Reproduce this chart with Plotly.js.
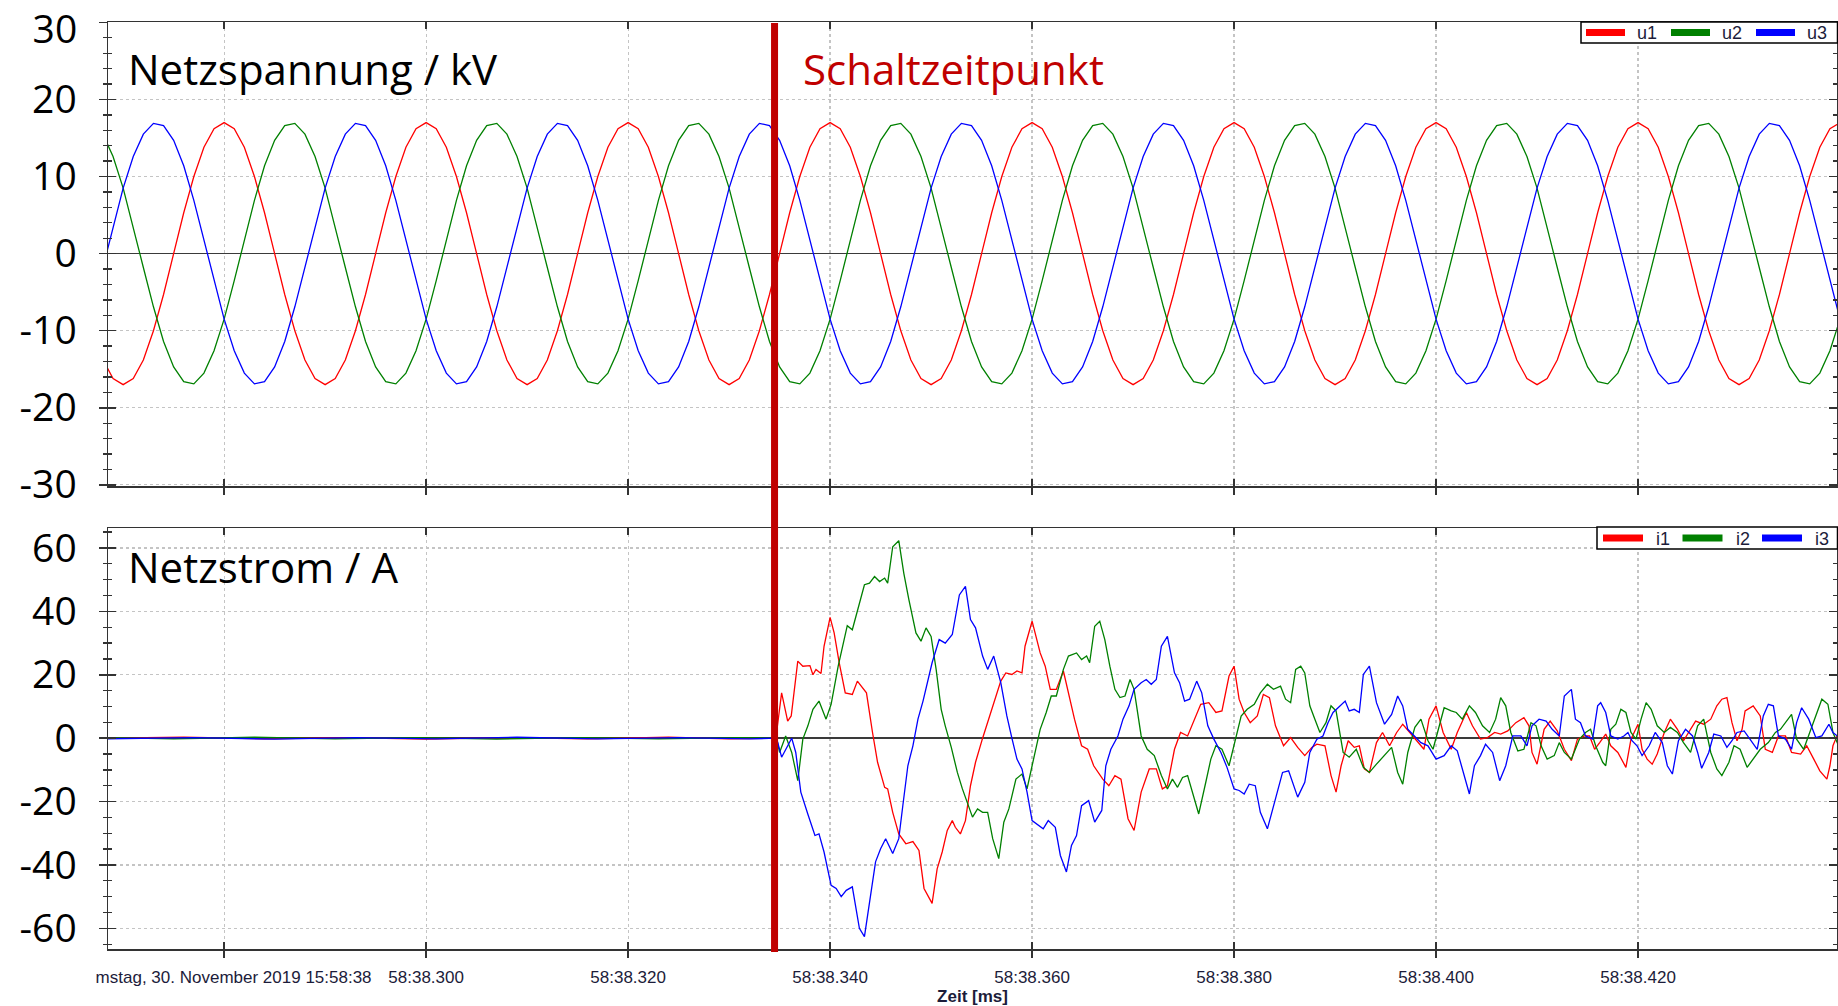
<!DOCTYPE html>
<html>
<head>
<meta charset="utf-8">
<script src="https://cdn.plot.ly/plotly-3.0.1.min.js"></script>
<style>
  html, body { margin: 0; padding: 0; background: #fff; }
  #chart { width: 1838px; height: 1006px; }
</style>
</head>
<body>
<div id="chart"></div>
<script>
// ---------------------------------------------------------------
// Mains voltage (kV), one sample per millisecond from 58:38.268
// ---------------------------------------------------------------
const voltageStartMs = 268;
const voltageStepMs = 1;

const u1 = [
  -13.8,-16.2,-17.0,-16.2,-13.8,-10.0,-5.3,0,5.3,10.0,13.8,16.2,17.0,16.2,13.8,10.0,5.3,0,-5.3,-10.0,
  -13.8,-16.2,-17.0,-16.2,-13.8,-10.0,-5.3,0,5.3,10.0,13.8,16.2,17.0,16.2,13.8,10.0,5.3,0,-5.3,-10.0,
  -13.8,-16.2,-17.0,-16.2,-13.8,-10.0,-5.3,0,5.3,10.0,13.8,16.2,17.0,16.2,13.8,10.0,5.3,0,-5.3,-10.0,
  -13.8,-16.2,-17.0,-16.2,-13.8,-10.0,-5.3,0,5.3,10.0,13.8,16.2,17.0,16.2,13.8,10.0,5.3,0,-5.3,-10.0,
  -13.8,-16.2,-17.0,-16.2,-13.8,-10.0,-5.3,0,5.3,10.0,13.8,16.2,17.0,16.2,13.8,10.0,5.3,0,-5.3,-10.0,
  -13.8,-16.2,-17.0,-16.2,-13.8,-10.0,-5.3,0,5.3,10.0,13.8,16.2,17.0,16.2,13.8,10.0,5.3,0,-5.3,-10.0,
  -13.8,-16.2,-17.0,-16.2,-13.8,-10.0,-5.3,0,5.3,10.0,13.8,16.2,17.0,16.2,13.8,10.0,5.3,0,-5.3,-10.0,
  -13.8,-16.2,-17.0,-16.2,-13.8,-10.0,-5.3,0,5.3,10.0,13.8,16.2,17.0,16.2,13.8,10.0,5.3,0,-5.3,-10.0,
  -13.8,-16.2,-17.0,-16.2,-13.8,-10.0,-5.3,0,5.3,10.0,13.8,16.2,17.0
];

const u2 = [
  15.5,12.6,8.5,3.5,-1.8,-6.9,-11.4,-14.7,-16.6,-16.9,-15.5,-12.6,-8.5,-3.5,1.8,6.9,11.4,14.7,16.6,16.9,
  15.5,12.6,8.5,3.5,-1.8,-6.9,-11.4,-14.7,-16.6,-16.9,-15.5,-12.6,-8.5,-3.5,1.8,6.9,11.4,14.7,16.6,16.9,
  15.5,12.6,8.5,3.5,-1.8,-6.9,-11.4,-14.7,-16.6,-16.9,-15.5,-12.6,-8.5,-3.5,1.8,6.9,11.4,14.7,16.6,16.9,
  15.5,12.6,8.5,3.5,-1.8,-6.9,-11.4,-14.7,-16.6,-16.9,-15.5,-12.6,-8.5,-3.5,1.8,6.9,11.4,14.7,16.6,16.9,
  15.5,12.6,8.5,3.5,-1.8,-6.9,-11.4,-14.7,-16.6,-16.9,-15.5,-12.6,-8.5,-3.5,1.8,6.9,11.4,14.7,16.6,16.9,
  15.5,12.6,8.5,3.5,-1.8,-6.9,-11.4,-14.7,-16.6,-16.9,-15.5,-12.6,-8.5,-3.5,1.8,6.9,11.4,14.7,16.6,16.9,
  15.5,12.6,8.5,3.5,-1.8,-6.9,-11.4,-14.7,-16.6,-16.9,-15.5,-12.6,-8.5,-3.5,1.8,6.9,11.4,14.7,16.6,16.9,
  15.5,12.6,8.5,3.5,-1.8,-6.9,-11.4,-14.7,-16.6,-16.9,-15.5,-12.6,-8.5,-3.5,1.8,6.9,11.4,14.7,16.6,16.9,
  15.5,12.6,8.5,3.5,-1.8,-6.9,-11.4,-14.7,-16.6,-16.9,-15.5,-12.6,-8.5
];

const u3 = [
  -1.8,3.5,8.5,12.6,15.5,16.9,16.6,14.7,11.4,6.9,1.8,-3.5,-8.5,-12.6,-15.5,-16.9,-16.6,-14.7,-11.4,-6.9,
  -1.8,3.5,8.5,12.6,15.5,16.9,16.6,14.7,11.4,6.9,1.8,-3.5,-8.5,-12.6,-15.5,-16.9,-16.6,-14.7,-11.4,-6.9,
  -1.8,3.5,8.5,12.6,15.5,16.9,16.6,14.7,11.4,6.9,1.8,-3.5,-8.5,-12.6,-15.5,-16.9,-16.6,-14.7,-11.4,-6.9,
  -1.8,3.5,8.5,12.6,15.5,16.9,16.6,14.7,11.4,6.9,1.8,-3.5,-8.5,-12.6,-15.5,-16.9,-16.6,-14.7,-11.4,-6.9,
  -1.8,3.5,8.5,12.6,15.5,16.9,16.6,14.7,11.4,6.9,1.8,-3.5,-8.5,-12.6,-15.5,-16.9,-16.6,-14.7,-11.4,-6.9,
  -1.8,3.5,8.5,12.6,15.5,16.9,16.6,14.7,11.4,6.9,1.8,-3.5,-8.5,-12.6,-15.5,-16.9,-16.6,-14.7,-11.4,-6.9,
  -1.8,3.5,8.5,12.6,15.5,16.9,16.6,14.7,11.4,6.9,1.8,-3.5,-8.5,-12.6,-15.5,-16.9,-16.6,-14.7,-11.4,-6.9,
  -1.8,3.5,8.5,12.6,15.5,16.9,16.6,14.7,11.4,6.9,1.8,-3.5,-8.5,-12.6,-15.5,-16.9,-16.6,-14.7,-11.4,-6.9,
  -1.8,3.5,8.5,12.6,15.5,16.9,16.6,14.7,11.4,6.9,1.8,-3.5,-8.5
];

// ---------------------------------------------------------------
// Mains current (A) as [time in ms after 58:38, value] pairs
// ---------------------------------------------------------------
const i1Samples = [
  [268,0],[276,0.3],[284,-0.2],[292,0.2],[300,-0.3],[308,0.2],[316,-0.2],[324,0.3],[330,-0.2],[334.5,0],
  [334.7,1.8],[335.2,14.3],[335.8,5.4],[336.15,7],[336.8,24.3],[337.3,22.7],[338.0,22.9],[338.3,20],[338.6,21.7],[339.1,20.4],
  [339.4,29],[340.0,38.1],[340.4,33.2],[340.9,23.8],[341.5,14.3],[342.2,13.8],[342.7,18],[343.6,14.3],[344.2,1.8],[344.7,-7.6],
  [345.4,-15.5],[345.7,-16],[346.2,-23.4],[346.8,-30.2],[347.5,-33.3],[348.2,-32.6],[348.8,-35.4],[349.3,-47.4],[350.1,-52.1],[350.6,-41.2],
  [351.1,-35.9],[351.6,-29.1],[352.1,-26],[352.4,-28.1],[352.9,-30.2],[353.4,-26],[353.9,-15],[354.4,-7.6],[355.1,0],[355.7,6],
  [356.4,13.3],[356.9,18],[357.4,20.6],[358.0,20.1],[358.5,21.2],[359.0,20.6],[359.3,29],[360.0,36.9],[360.8,26.9],[361.3,22.7],
  [361.8,15.4],[362.4,15.4],[363.1,21.2],[363.6,14.3],[364.2,6],[364.9,-2.4],[365.5,-3.5],[366.1,-8.7],[367.0,-12.9],[367.6,-15],
  [368.2,-11.8],[368.8,-12.9],[369.5,-25.4],[370.1,-29.1],[370.8,-17],[371.6,-9.7],[372.3,-9.7],[372.9,-16],[373.4,-15],[374.1,-3.5],
  [374.7,1.8],[375.4,0.7],[376.1,6],[376.7,10.7],[377.5,11.2],[378.2,8.1],[378.8,8.6],[379.5,19.6],[380.0,22.7],[380.5,12.3],
  [381.0,8.1],[381.6,4.9],[382.3,7],[382.9,13.8],[383.5,12.8],[384.1,3.9],[384.9,-2.4],[385.6,0.2],[386.3,-2.9],[387.0,-5.5],
  [387.7,-2.9],[388.2,-1.9],[389.0,-2.4],[389.6,-11.8],[390.1,-17],[390.6,-8.7],[391.3,-0.8],[391.9,-2.9],[392.4,-2.4],[392.9,-9.7],
  [393.4,-10.8],[394.1,-1.4],[394.7,1.8],[395.4,-2.4],[396.1,1.8],[396.7,4.4],[397.4,1.8],[398.2,-1.4],[398.8,-3.5],[399.3,6],
  [400.0,10.2],[400.7,1.8],[401.5,-3.5],[402.1,1.8],[403.0,8.1],[403.6,3.9],[404.4,-0.3],[405.1,0.2],[405.8,1.8],[406.4,1.3],
  [407.1,2.3],[407.9,4.9],[408.7,6.5],[409.2,3.9],[409.5,-4.5],[410.0,-8.2],[410.7,2.8],[411.3,5.4],[412.0,2.3],[412.7,-3.5],
  [413.4,-7.1],[414.0,-0.3],[414.7,0.7],[415.2,0.7],[415.7,-3.5],[416.2,-1.4],[416.8,1.3],[417.3,-2.4],[418.0,-4.5],[418.8,-9.2],
  [419.3,-0.3],[420.0,4.4],[420.4,-3.5],[420.9,-6.6],[421.4,-8.2],[421.9,-5],[422.6,1.8],[423.2,6],[423.9,2.8],[424.5,-0.8],
  [425.2,2.8],[425.7,5.4],[426.5,4.4],[427.2,6],[427.8,10.2],[428.3,12.3],[428.8,12.8],[429.3,4.9],[429.8,-0.8],[430.3,2.8],
  [430.6,8.6],[431.4,10.2],[432.1,7],[432.6,-3.5],[433.3,-4.5],[433.9,0.7],[434.6,0.7],[435.2,-4.5],[436.1,-5],[436.7,-2.4],
  [437.4,-6.6],[438.0,-10.3],[438.7,-12.9],[439.0,-8.7],[439.3,-2.4],[439.8,1.5]
];

const i2Samples = [
  [268,0.2],[275,-0.2],[283,0.3],[291,-0.2],[299,0.2],[307,-0.3],[315,0.2],[323,-0.2],[331,0.2],[334.5,0],
  [334.7,0],[335.0,-4.5],[335.6,0.7],[336.2,-4.5],[336.8,-13.4],[337.3,-0.3],[337.8,3.9],[338.3,9.1],[338.9,11.7],[339.6,6],
  [340.1,10.7],[340.8,22.7],[341.3,30],[341.7,35.5],[342.2,34.2],[342.7,40.5],[343.4,48.4],[343.9,48.9],[344.4,51],[344.9,49.4],
  [345.4,50.5],[345.7,48.9],[346.2,60.4],[346.8,62.3],[347.3,52],[347.8,43.7],[348.5,33.2],[349.0,30.6],[349.5,34.8],[350.0,32.1],
  [350.5,21.7],[351.0,9.1],[351.4,3.9],[352.0,-2.9],[352.6,-10.8],[353.1,-16],[353.6,-20.7],[354.1,-24.9],[354.6,-22.3],[355.1,-23.4],
  [355.6,-23.4],[356.1,-31.7],[356.7,-38],[357.2,-26.5],[357.7,-22.3],[358.4,-12.9],[359.0,-11.3],[359.5,-16],[360.0,-8.7],[360.8,2.8],
  [361.4,8.1],[361.9,13.3],[362.4,13.3],[363.1,21.7],[363.6,25.9],[364.4,26.9],[364.9,24.8],[365.4,25.9],[365.7,23.8],[366.2,35.3],
  [366.7,36.9],[367.2,31.1],[367.7,22.7],[368.2,15.4],[368.7,12.8],[369.2,13.3],[369.7,18.5],[370.1,15.4],[370.8,0.7],[371.4,-3.5],
  [372.1,-5.5],[372.8,-11.8],[373.4,-16],[373.9,-12.9],[374.4,-15.5],[374.9,-12.4],[375.4,-11.8],[375.9,-17],[376.5,-23.9],[377.2,-13.9],
  [377.7,-6.6],[378.2,-2.4],[378.8,-3.5],[379.5,-8.7],[380.0,-2.4],[380.7,7],[381.3,9.1],[382.0,10.7],[382.6,14.3],[383.3,17],
  [383.9,15.4],[384.6,16.4],[385.1,12.3],[385.6,11.2],[386.1,21.7],[386.6,22.7],[387.0,20.6],[387.5,10.2],[388.0,6],[388.5,1.8],
  [389.1,4.9],[389.6,10.2],[390.1,8.6],[390.8,-4.5],[391.4,-6],[392.1,-3.5],[392.8,-9.2],[393.4,-10.8],[394.1,-8.2],[394.9,-5.5],
  [395.6,-2.9],[396.2,-10.8],[396.7,-14.5],[397.2,-4.5],[397.9,3.4],[398.5,6],[399.2,-0.8],[399.7,-3.5],[400.2,2.8],[400.8,9.6],
  [401.5,8.6],[402.0,8.1],[402.6,6],[403.3,10.2],[403.9,8.1],[404.6,3.9],[405.3,1.8],[405.9,6],[406.4,12.8],[406.9,10.2],
  [407.4,1.8],[408.1,-4],[408.7,-3.5],[409.4,4.9],[409.9,3.9],[410.4,-2.4],[411.0,-6.6],[411.7,-5.5],[412.2,-1.4],[412.7,-4.5],
  [413.4,-6.6],[414.2,-0.3],[414.8,1.8],[415.3,2.8],[415.8,-2.4],[416.5,-7.6],[416.8,-8.7],[417.3,2.8],[417.8,4.4],[418.3,9.1],
  [418.8,8.1],[419.3,1.8],[419.8,-0.3],[420.3,6],[420.8,11.2],[421.3,9.1],[421.9,3.9],[422.6,1.8],[423.2,3.4],[423.9,1.8],
  [424.5,-1.4],[425.2,-4.5],[425.9,3.9],[426.5,6],[427.2,-4.5],[427.8,-9.7],[428.3,-11.8],[429.0,-7.6],[429.5,-2.4],[430.1,-3.5],
  [430.8,-9.2],[431.4,-6.6],[432.1,-3.5],[432.9,-1.4],[433.6,1.8],[434.1,2.8],[434.6,4.9],[435.2,7.5],[435.7,-0.3],[436.4,-3.5],
  [437.0,1.8],[437.5,6],[438.2,12.3],[438.8,10.7],[439.3,1.8],[439.8,-2]
];

const i3Samples = [
  [268,-0.2],[277,0.2],[285,-0.3],[293,0.2],[301,-0.2],[309,0.3],[317,-0.2],[325,0.2],[332,-0.2],[334.5,0],
  [334.7,0],[335.2,-6],[335.7,-3],[336.2,0],[336.6,-4.5],[337.1,-17],[337.8,-24],[338.5,-30.7],[338.9,-30.2],[339.4,-35.9],
  [340.1,-46.4],[340.6,-47.4],[341.1,-50],[341.6,-48],[342.2,-46.9],[342.9,-60],[343.4,-62.6],[343.9,-51.6],[344.5,-39],[345.0,-34.9],
  [345.5,-31.7],[346.2,-36.4],[346.8,-31.7],[347.2,-21.3],[347.7,-8.7],[348.2,-2.4],[348.7,6],[349.2,11.7],[349.6,17.5],[350.1,23.8],
  [350.8,31.1],[351.4,30],[352.1,32.7],[352.8,45.2],[353.4,47.9],[353.9,37.4],[354.4,34.8],[355.1,25.9],[355.6,21.7],[356.2,25.9],
  [356.9,17.5],[357.5,7],[358.0,0],[358.5,-6.6],[359.0,-9.7],[359.5,-17],[360.0,-26],[361.1,-28.6],[361.6,-26],[362.3,-28.1],
  [362.8,-37],[363.4,-42.2],[363.9,-33.8],[364.4,-30.7],[364.9,-21.3],[365.6,-19.7],[366.2,-26.5],[366.9,-22.8],[367.3,-8.7],[367.8,-3.5],
  [368.5,0.7],[369.0,6],[369.6,10.2],[370.1,15.4],[370.8,17.5],[371.3,18.5],[371.8,17],[372.3,18.5],[372.8,29],[373.4,32.1],
  [374.1,20.6],[374.6,17.5],[375.1,11.7],[375.6,12.3],[376.3,18],[376.8,14.3],[377.4,3.9],[378.0,-0.3],[378.7,-4.5],[379.3,-9.2],
  [380.0,-16],[380.5,-16.5],[381.0,-17.6],[381.5,-14.5],[382.1,-15],[382.6,-23.4],[383.3,-28.6],[383.8,-22.8],[384.3,-17],[384.8,-10.8],
  [385.4,-10.3],[386.3,-18.6],[387.0,-13.9],[387.5,-4.5],[388.2,-0.3],[388.8,0.7],[389.3,4.9],[389.8,8.1],[390.3,9.6],[391.0,11.7],
  [391.4,8.6],[391.9,9.1],[392.4,8.1],[392.8,20.1],[393.4,22.7],[394.1,11.2],[394.9,4.4],[395.6,7.5],[396.2,13.3],[396.7,10.2],
  [397.2,2.8],[397.9,0.7],[398.5,-1.4],[399.2,-2.4],[400.0,-6.6],[400.8,-5.5],[401.5,-2.4],[402.1,-4],[402.8,-11.8],[403.3,-17.6],
  [403.8,-8.7],[404.4,-5.5],[404.9,-1.9],[405.6,-4.5],[406.3,-13.4],[406.9,-8.7],[407.6,0.7],[408.4,0.7],[409.0,-2.4],[409.5,3.9],
  [410.2,6],[410.9,5.4],[411.5,2.8],[412.2,0.7],[412.7,13.3],[413.4,15.4],[413.8,6],[414.3,4.9],[414.8,0.7],[415.5,-0.3],
  [416.0,10.2],[416.3,11.2],[416.8,8.1],[417.3,0.7],[418.0,-0.3],[418.6,0.7],[419.0,1.8],[419.4,-0.8],[419.9,-2.4],[420.4,-5.5],
  [421.1,-2.4],[421.7,1.8],[422.4,-1.4],[422.9,-8.7],[423.4,-11.3],[424.0,-0.8],[424.7,2.8],[425.4,0.7],[425.9,-4.5],[426.3,-9.5],
  [427.0,-4.5],[427.5,1.3],[428.2,0.7],[428.8,-2.9],[429.3,-0.8],[429.8,1.8],[430.5,2.3],[431.1,-0.3],[431.8,-3.5],[432.4,7],
  [432.9,10.7],[433.4,10.2],[433.9,0.7],[434.6,-0.3],[435.2,-3.5],[435.7,4.9],[436.2,9.6],[436.9,6],[437.6,0.2],[438.2,0.7],
  [438.9,4.4],[439.3,1.8],[439.8,0.5]
];

// Switching instant (ms after 58:38)
const switchTimeMs = 334.5;

// Axis ticks and labels
const timeTickVals = [280, 300, 320, 340, 360, 380, 400, 420];
const timeTickText = [
  '\u00a0\u00a0\u00a0\u00a0mstag, 30. November 2019 15:58:38', '58:38.300', '58:38.320', '58:38.340',
  '58:38.360', '58:38.380', '58:38.400', '58:38.420'
];
const voltageTickVals = [-30, -20, -10, 0, 10, 20];
const voltageTopTick = [30];
const currentTickVals = [-60, -40, -20, 0, 20, 40, 60];
const voltageRange = [-30.15, 30.05];
const currentRange = [-66.5, 66.3];
const voltageNames = ['u1', 'u2', 'u3'];
const currentNames = ['i1', 'i2', 'i3'];
const phaseColors = ['#ff0000', '#008000', '#0000ff'];

// ---------------------------------------------------------------
// Traces
// ---------------------------------------------------------------
const voltageTime = u1.map((_, k) => voltageStartMs + k * voltageStepMs);
const voltageSeries = [u1, u2, u3];
const currentSeries = [i1Samples, i2Samples, i3Samples];

const traces = [];
voltageSeries.forEach((vals, k) => {
  traces.push({
    type: 'scatter', mode: 'lines', name: voltageNames[k],
    x: voltageTime, y: vals, xaxis: 'x2', yaxis: 'y2',
    line: { color: phaseColors[k], width: 1.3 }, showlegend: false, hoverinfo: 'skip'
  });
});
currentSeries.forEach((pairs, k) => {
  traces.push({
    type: 'scatter', mode: 'lines', name: currentNames[k],
    x: pairs.map(p => p[0]), y: pairs.map(p => p[1]), xaxis: 'x', yaxis: 'y',
    line: { color: phaseColors[k], width: 1.3 }, showlegend: false, hoverinfo: 'skip'
  });
});
// empty traces that only register the overlay axes
[['x3', 'y3'], ['x4', 'y4'], ['x2', 'y5']].forEach(([xa, ya]) => {
  traces.push({ type: 'scatter', mode: 'lines', x: [null], y: [null], xaxis: xa, yaxis: ya, showlegend: false, hoverinfo: 'skip' });
});

// ---------------------------------------------------------------
// Layout helpers
// ---------------------------------------------------------------
const W = 1838, H = 1006;
const M = { l: 108, r: 1, t: 22, b: 57 };
const plotW = W - M.l - M.r;
const plotH = H - M.t - M.b;
const pxToPaperY = py => (H - M.b - py) / plotH;
const pxToPaperX = px => (px - M.l) / plotW;

const timeRange = [268.5, 439.7];
const topDomain = [pxToPaperY(486), 1];
const botDomain = [0, pxToPaperY(528)];

const bigFont = '"Open Sans", "Noto Sans", Lato, sans-serif';
const smallFont = '"Liberation Sans Narrow", "Arial Narrow", "Liberation Sans", Arial, sans-serif';
const frameColor = '#333333';
const gridColor = '#c4c4c4';
const labelInk = '#1c1c3a';

function timeAxis(anchor, withLabels) {
  return {
    anchor: anchor, domain: [0, 1], range: timeRange, autorange: false,
    tickmode: 'array', tickvals: timeTickVals, ticktext: timeTickText,
    showticklabels: withLabels,
    ticks: 'outside', ticklen: 7, tickwidth: 1.5, tickcolor: frameColor,
    showline: true, linecolor: frameColor, linewidth: 1.5, mirror: true,
    showgrid: true, gridcolor: gridColor, griddash: 'dot', gridwidth: 1.2,
    zeroline: false,
    tickfont: { family: smallFont, size: 17, color: labelInk },
    ticklabelstandoff: 5, ticklabeloverflow: 'allow'
  };
}
function tickOverlayX(base, anchor) {
  return {
    overlaying: base, anchor: anchor, range: timeRange, autorange: false,
    tickmode: 'array', tickvals: timeTickVals, showticklabels: false,
    ticks: 'inside', ticklen: 7, tickwidth: 1.5, tickcolor: frameColor,
    showline: true, linecolor: frameColor, linewidth: 1.5, mirror: 'ticks',
    showgrid: false, zeroline: false
  };
}
function valueAxis(anchor, domain, range, vals, minorDtick) {
  return {
    anchor: anchor, domain: domain, range: range, autorange: false,
    tickmode: 'array', tickvals: vals, ticktext: vals.map(v => String(v)),
    ticks: 'outside', ticklen: 8, tickwidth: 1.5, tickcolor: frameColor,
    minor: { dtick: minorDtick, tick0: 0, ticks: 'outside', ticklen: 4, tickwidth: 1.3, tickcolor: frameColor, showgrid: false },
    showline: true, linecolor: frameColor, linewidth: 1.5, mirror: true,
    showgrid: true, gridcolor: gridColor, griddash: 'dot', gridwidth: 1.2,
    zeroline: true, zerolinecolor: '#3a3a3a', zerolinewidth: 1.6,
    tickfont: { family: bigFont, size: 39, color: '#000' },
    ticklabelstandoff: 14, ticklabeloverflow: 'allow'
  };
}
function tickOverlayY(base, anchor, range, vals, minorDtick) {
  return {
    overlaying: base, anchor: anchor, range: range, autorange: false,
    tickmode: 'array', tickvals: vals, showticklabels: false,
    ticks: 'inside', ticklen: 8, tickwidth: 1.5, tickcolor: frameColor,
    minor: { dtick: minorDtick, tick0: 0, ticks: 'inside', ticklen: 4, tickwidth: 1.3, tickcolor: frameColor, showgrid: false },
    showline: true, linecolor: frameColor, linewidth: 1.5, mirror: 'ticks',
    showgrid: false, zeroline: false
  };
}
// top voltage label sits at the frame corner; nudge it down to stay on the page
const voltageTopAxis = {
  overlaying: 'y2', anchor: 'x2', range: voltageRange, autorange: false,
  tickmode: 'array', tickvals: voltageTopTick, ticktext: voltageTopTick.map(v => String(v)),
  ticks: 'outside', ticklen: 8, tickwidth: 1.5, tickcolor: frameColor,
  showline: false, showgrid: false, zeroline: false,
  tickfont: { family: bigFont, size: 39, color: '#000' },
  ticklabelstandoff: 14, ticklabelshift: 7, ticklabeloverflow: 'allow'
};

const xBottom = timeAxis('y', true);
xBottom.title = {
  text: 'Zeit [ms]', standoff: 1,
  font: { family: smallFont, size: 17, color: labelInk, weight: 'bold' }
};

// ---------------------------------------------------------------
// Boxed legends: frame, thick colour bars and series names
// ---------------------------------------------------------------
const shapes = [];
const annotations = [];
function boxedLegend(names, box, firstBar, pitch, barLen, textGap) {
  const yMid = (box.top + box.bottom) / 2;
  shapes.push({
    type: 'rect', xref: 'paper', yref: 'paper', layer: 'above',
    x0: pxToPaperX(box.left), x1: pxToPaperX(box.right),
    y0: pxToPaperY(box.bottom), y1: pxToPaperY(box.top),
    line: { color: '#000', width: 1.5 }, fillcolor: '#ffffff'
  });
  names.forEach((n, k) => {
    const x0 = firstBar + k * pitch;
    shapes.push({
      type: 'line', xref: 'paper', yref: 'paper', layer: 'above',
      x0: pxToPaperX(x0), x1: pxToPaperX(x0 + barLen),
      y0: pxToPaperY(yMid), y1: pxToPaperY(yMid),
      line: { color: phaseColors[k], width: 7 }
    });
    annotations.push({
      text: n, xref: 'paper', yref: 'paper', showarrow: false,
      x: pxToPaperX(x0 + textGap), y: pxToPaperY(yMid + 0.5),
      xanchor: 'left', yanchor: 'middle',
      font: { family: smallFont, size: 18, color: labelInk }
    });
  });
}
boxedLegend(voltageNames, { left: 1581, right: 1837.5, top: 22, bottom: 43 }, 1586, 85, 39, 49);
boxedLegend(currentNames, { left: 1597, right: 1837.5, top: 527, bottom: 549 }, 1603, 79.5, 40, 51);

// Switching instant marker
shapes.push({
  type: 'line', layer: 'above', xref: 'x', yref: 'paper',
  x0: switchTimeMs, x1: switchTimeMs,
  y0: pxToPaperY(952), y1: pxToPaperY(23),
  line: { color: '#c00000', width: 7 }
});

// Panel captions
annotations.push(
  { text: 'Netzspannung / kV', xref: 'paper', yref: 'paper', x: pxToPaperX(126), y: pxToPaperY(68),
    xanchor: 'left', yanchor: 'middle', showarrow: false,
    font: { family: bigFont, size: 42, color: '#000' } },
  { text: 'Schaltzeitpunkt', xref: 'paper', yref: 'paper', x: pxToPaperX(801), y: pxToPaperY(68),
    xanchor: 'left', yanchor: 'middle', showarrow: false,
    font: { family: bigFont, size: 42, color: '#c00000' } },
  { text: 'Netzstrom / A', xref: 'paper', yref: 'paper', x: pxToPaperX(126), y: pxToPaperY(566),
    xanchor: 'left', yanchor: 'middle', showarrow: false,
    font: { family: bigFont, size: 42, color: '#000' } }
);

const layout = {
  width: W, height: H, autosize: false,
  margin: M,
  paper_bgcolor: '#ffffff', plot_bgcolor: '#ffffff',
  showlegend: false,
  xaxis: xBottom,
  yaxis: valueAxis('x', botDomain, currentRange, currentTickVals, 5),
  xaxis2: timeAxis('y2', false),
  yaxis2: valueAxis('x2', topDomain, voltageRange, voltageTickVals, 2),
  xaxis3: tickOverlayX('x', 'y'),
  yaxis3: tickOverlayY('y', 'x', currentRange, currentTickVals, 5),
  xaxis4: tickOverlayX('x2', 'y2'),
  yaxis4: tickOverlayY('y2', 'x2', voltageRange, voltageTickVals.concat(voltageTopTick), 2),
  yaxis5: voltageTopAxis,
  shapes: shapes,
  annotations: annotations
};

Plotly.newPlot('chart', traces, layout, { staticPlot: true, displayModeBar: false });
</script>
</body>
</html>
